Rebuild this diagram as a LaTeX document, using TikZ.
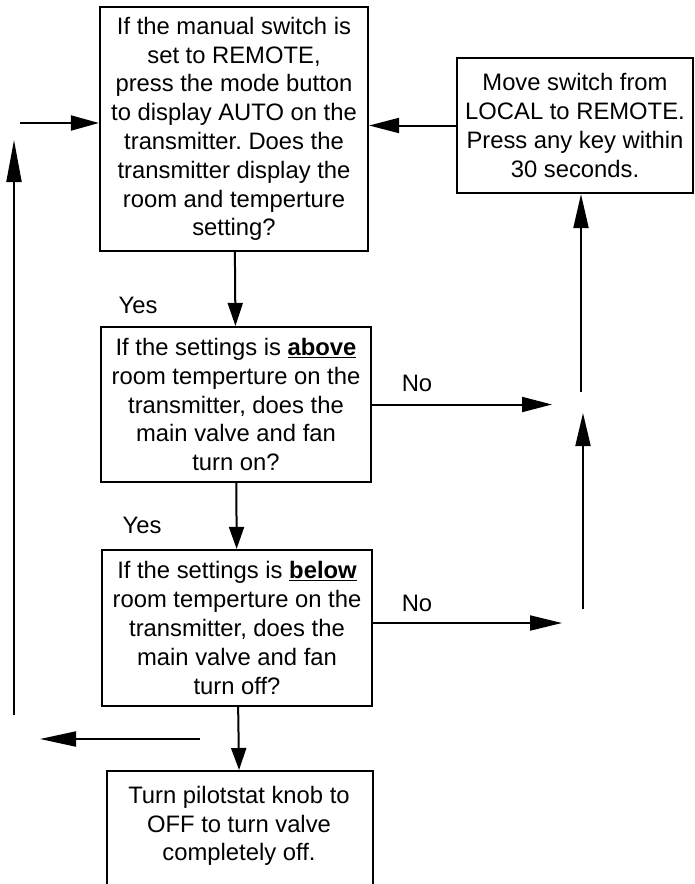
\documentclass[tikz,border=0pt]{standalone}
\usepackage{fontspec}
\setmainfont{Liberation Sans}
\usetikzlibrary{arrows.meta}
\frenchspacing

\tikzset{
  arr/.style={-{Triangle[length=#1, width=15pt]}, line width=2pt},
  arr/.default=31pt
}

\begin{document}
\begin{tikzpicture}[
    x=1pt, y=-1pt,
    font=\fontsize{23.8}{28.8}\selectfont,
    nd/.style={
      draw=black, line width=2.2pt,
      align=center, inner sep=0pt
    },
    txt/.style={align=center, inner sep=0pt},
    lbl/.style={inner sep=0pt}
  ]
  \useasboundingbox (0,0) rectangle (694,884);

  \node[nd, minimum width=268pt, minimum height=244pt] (askauto) at (234,129)
    {If the manual switch is\\set to REMOTE,\\press the mode button\\to display AUTO on the\\transmitter. Does the\\transmitter display the\\room and temperture\\setting?};
  \node[nd, minimum width=236pt, minimum height=135pt] (moveswitch) at (575,125.5)
    {Move switch from\\LOCAL to REMOTE.\\Press any key within\\30 seconds.};
  \node[nd, minimum width=270pt, minimum height=155pt] (askon) at (236,404.5)
    {If the settings is \underline{\textbf{above}}\\room temperture on the\\transmitter, does the\\main valve and fan\\turn on?};
  \node[nd, minimum width=270pt, minimum height=156pt] (askoff) at (237,628)
    {If the settings is \underline{\textbf{below}}\\room temperture on the\\transmitter, does the\\main valve and fan\\turn off?};
  \node[nd, minimum width=266pt, minimum height=130pt, anchor=north] (knob) at (240,770) {};
  \node[txt] (knobtxt) at (239,826) {Turn pilotstat knob to\\OFF to turn valve\\completely off.};

  % labels
  \node[lbl] (yes1) at (138,305) {Yes};
  \node[lbl] (yes2) at (142,525) {Yes};
  \node[lbl] (no1)  at (417,383) {No};
  \node[lbl] (no2)  at (417,603) {No};

  % loose ends
  \coordinate (inleft)  at (20,123);
  \coordinate (upbot)   at (14,715);
  \coordinate (uptop)   at (14,140);
  \coordinate (backr)   at (200,739);
  \coordinate (backl)   at (40,739);
  \coordinate (noonend) at (552,404.5);
  \coordinate (nooffend) at (562,623);
  \coordinate (rise1)   at (581,392);
  \coordinate (rise2b)  at (583,609);
  \coordinate (rise2t)  at (583,413);

  \draw[arr=23pt] (askauto) -- (askon);
  \draw[arr=22pt] (askon) -- (askoff);
  \draw[arr=22pt] (askoff) -- (knob);
  \draw[arr=30pt] (moveswitch.west) -- (moveswitch.west -| askauto.east);
  \draw[arr=30pt] (askon.east) -- (noonend);
  \draw[arr=32pt] (askoff.east |- nooffend) -- (nooffend);
  \draw[arr=34pt] (rise1) -- (rise1 |- moveswitch.south);
  \draw[arr=33pt] (rise2b) -- (rise2t);
  \draw[arr=28pt] (inleft) -- (inleft -| askauto.west);
  \draw[arr=42pt] (upbot) -- (uptop);
  \draw[arr=36pt] (backr) -- (backl);
\end{tikzpicture}
\end{document}
